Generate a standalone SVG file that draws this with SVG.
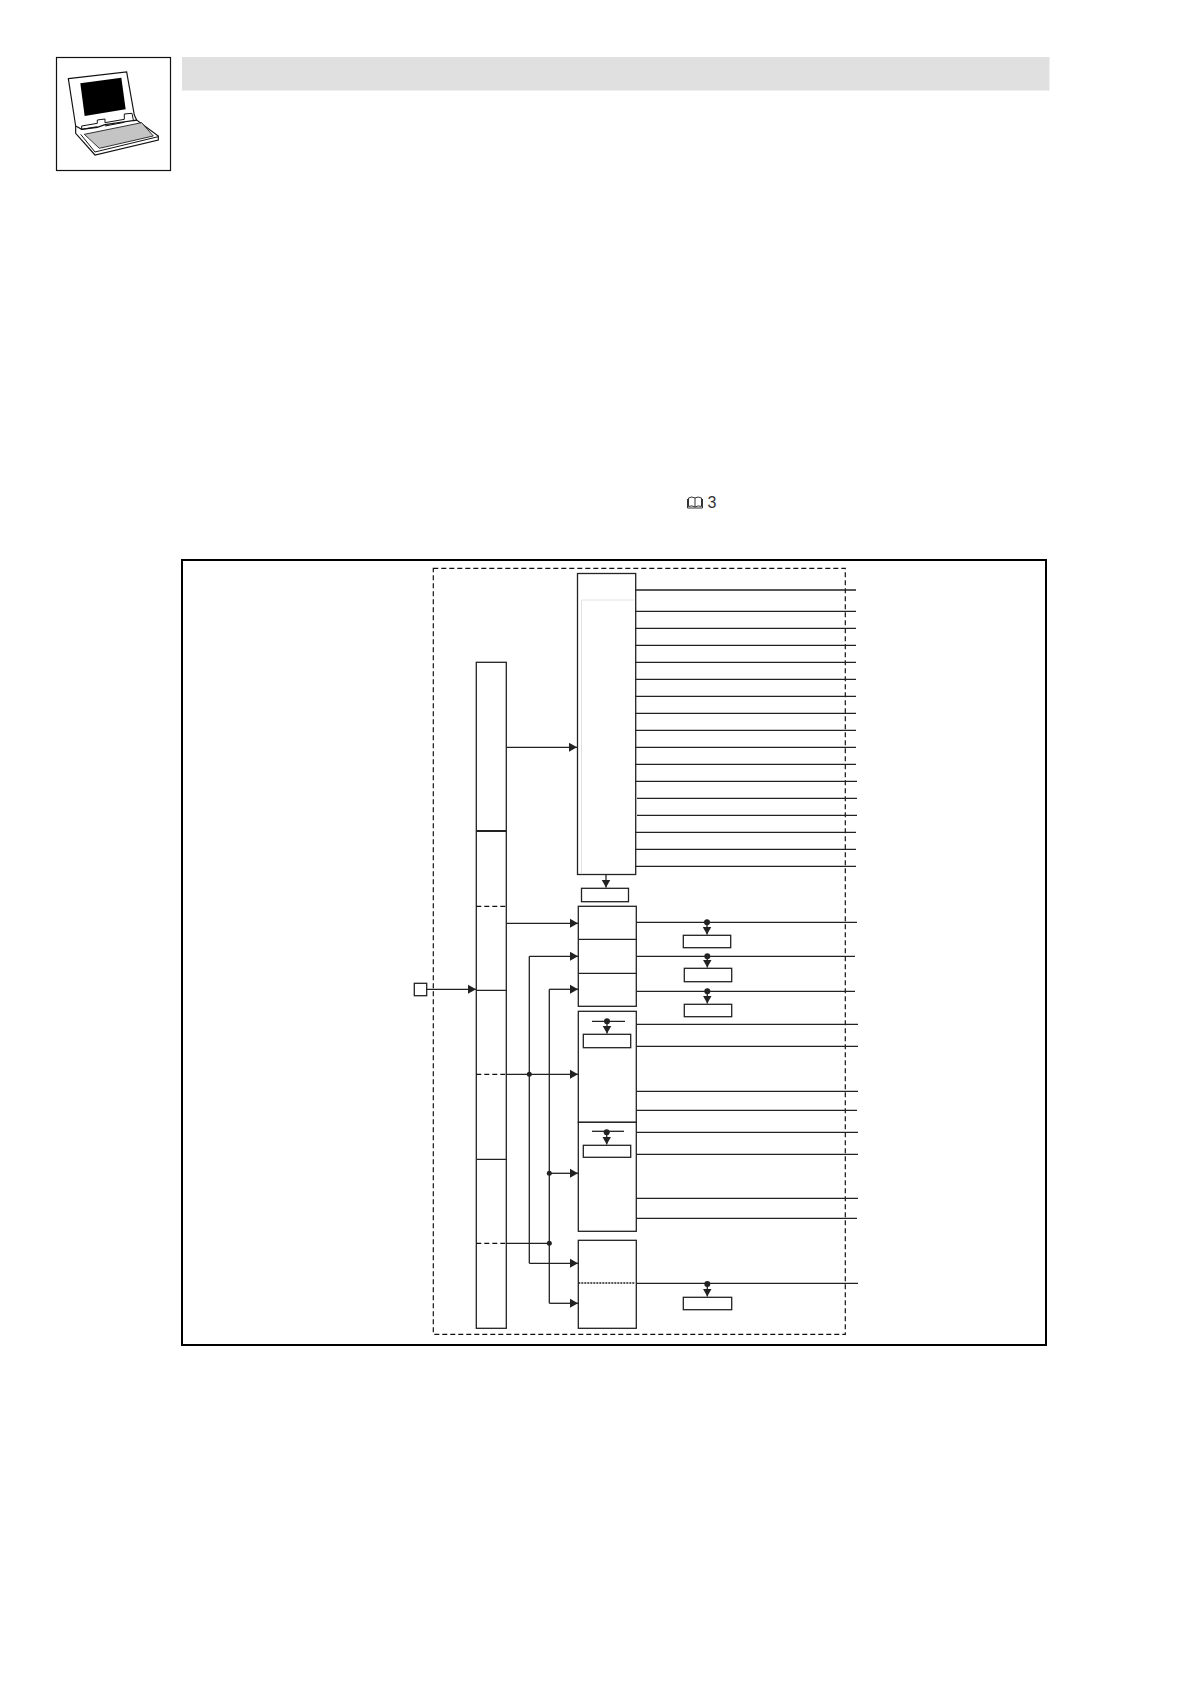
<svg xmlns="http://www.w3.org/2000/svg" width="1190" height="1684" viewBox="0 0 1190 1684">
<style>
.n{fill:#fff;stroke:#222;stroke-width:1.3}
.c{fill:none;stroke:#222;stroke-width:1.3}
.a{fill:none;stroke:#222;stroke-width:1.3;marker-end:url(#ah)}
.d{fill:none;stroke:#111;stroke-width:1.2;stroke-dasharray:5 3}
.dot{fill:#222}
.lap{fill:#fff;stroke:#111;stroke-width:3.500}
</style>
<defs>
<marker id="ah" markerUnits="userSpaceOnUse" markerWidth="9" markerHeight="10" refX="8" refY="5" orient="auto"><path d="M0 0.500L8 5L0 9.500Z" fill="#222"/></marker>
</defs>
<rect width="1190" height="1684" fill="#fff"/>
<g id="header"><rect x="182" y="57" width="867.500" height="33.500" fill="#e0e0e0"/></g>
<g id="icon">
<rect x="56.500" y="57.500" width="114" height="113" fill="#fff" stroke="#111" stroke-width="1.200"/>
<g transform="translate(40 40) scale(.3333)">
<path class="lap" d="M107 258L290 240L355 288V300L165 345L107 280Z"/>
<path class="lap" d="M85 116L260 96L283 225L290 240L195 254L172 262L125 268L107 258Z"/>
<path d="M121 130L244 113L257 208L134 228Z" fill="#000"/>
<path d="M125 268V258L172 250V240L195 237V248L253 238V222L276 220L280 240M125 268L172 260M195 258L253 247M280 243L290 240M122 283L165 336L355 290" fill="none" stroke="#111" stroke-width="3"/>
<path d="M133 283L305 248L340 288L178 325Z" fill="#c4c4c4" stroke="#111" stroke-width="2.500"/>
</g>
</g>
<g id="ref">
<path d="M688.500 498Q692 496 695 498Q698 496 701.500 498V506.500Q698 505 695 507Q692 505 688.500 506.500ZM695 498V507M687.500 499V508H702.500V499" fill="none" stroke="#333" stroke-width="1"/>
<text x="707.500" y="508" font-family="'Liberation Sans',Arial,sans-serif" font-size="16" fill="#333">3</text>
</g>
<g id="frame"><rect x="182" y="560" width="864" height="785" fill="none" stroke="#000" stroke-width="2"/></g>
<g id="boundary"><rect x="433.300" y="568.300" width="412" height="766" class="d"/></g>
<g id="column">
<rect class="n" x="476.300" y="662.300" width="30" height="666"/>
<path d="M476.300 831H506.300" stroke="#222" stroke-width="2"/>
<path class="d" d="M476.300 906.300H508M476.300 1074.300H506M476.300 1243.300H506"/>
<path class="c" d="M476.300 990.300H506.300M476.300 1159.300H506.300"/>
</g>
<g id="main">
<rect class="n" x="577.500" y="573.500" width="58.200" height="301"/>
<path d="M581.500 874V600H634" fill="none" stroke="#e2e2e2" stroke-width="1"/>
</g>
<g id="sub0"><rect class="n" x="581.500" y="888.300" width="47" height="13.400"/></g>
<g id="groupA">
<rect class="n" x="578.300" y="906.300" width="58" height="100"/>
<path class="c" d="M578.300 939.300H636.300M578.300 973.300H636.300"/>
</g>
<g id="groupB">
<rect class="n" x="578.300" y="1011.300" width="58" height="111"/>
<path class="c" d="M592 1021.300H625"/>
<circle class="dot" cx="607" cy="1021.300" r="3"/>
<path class="a" d="M607 1022V1033.500"/>
<rect class="n" x="583.300" y="1034.300" width="47.400" height="13.400"/>
</g>
<g id="groupC">
<rect class="n" x="578.300" y="1122.300" width="58" height="109"/>
<path class="c" d="M592 1131.300H624"/>
<circle class="dot" cx="606.700" cy="1132.300" r="3"/>
<path class="a" d="M606.700 1133V1144.500"/>
<rect class="n" x="583.300" y="1145.300" width="47.400" height="12"/>
</g>
<g id="groupD">
<rect class="n" x="578.300" y="1240.300" width="58" height="88"/>
<path d="M578.300 1283H635" fill="none" stroke="#222" stroke-width="1.500" stroke-dasharray="2 1"/>
</g>
<g id="input"><rect class="n" x="414.300" y="983.300" width="12.400" height="12.400"/></g>
<g id="out1"><rect class="n" x="683.300" y="935.300" width="47.400" height="12.400"/></g>
<g id="out2"><rect class="n" x="684.300" y="968.300" width="47.400" height="13.400"/></g>
<g id="out3"><rect class="n" x="684.300" y="1004.300" width="47.400" height="12.400"/></g>
<g id="out4"><rect class="n" x="683.300" y="1297.300" width="48.400" height="12.400"/></g>
<g id="connectors">
<path class="c" d="M635.700 590H856M635.700 611.300H856M635.700 628.300H856M635.700 645.300H856M635.700 662.300H856M635.700 679.300H856M635.700 696.300H856M635.700 713.300H856M635.700 730.300H856M635.700 747.300H856M635.700 764.300H856M635.700 781.300H857M637 798.300H857M637 815.300H857M635.700 832.300H856M635.700 849.300H856M635.700 866.300H856"/>
<path class="a" d="M506.300 747.300H577"/>
<path class="a" d="M606 874.500V887.500"/>
<path class="a" d="M426.700 989.300H476"/>
<path class="a" d="M506.300 923.300H578"/>
<path class="c" d="M529.300 956.300V1263.300"/>
<path class="a" d="M529.300 956.300H578"/>
<path class="a" d="M529.300 1263.300H578"/>
<path class="c" d="M549.300 989.300V1303.300"/>
<path class="a" d="M549.300 989.300H578"/>
<path class="a" d="M549.300 1303.300H578"/>
<path class="a" d="M506.300 1074.300H578"/>
<path class="a" d="M549.300 1173.300H578"/>
<path class="c" d="M506.300 1243.300H549.300"/>
<circle class="dot" cx="529.300" cy="1074.300" r="2.500"/>
<circle class="dot" cx="549.300" cy="1173.300" r="2.500"/>
<circle class="dot" cx="549.300" cy="1243.300" r="2.500"/>
<path class="c" d="M636.300 922.300H857M636.300 956.300H855M636.300 991.300H855"/>
<path class="c" d="M636.300 1024.300H858M636.300 1046.300H858M636.300 1091.300H858M636.300 1110.300H857M636.300 1132.300H858M636.300 1154.300H858M636.300 1198.300H858M636.300 1218.300H857M636.300 1283.300H858"/>
<circle class="dot" cx="707" cy="922.300" r="3"/><path class="a" d="M707 923V934.500"/>
<circle class="dot" cx="707.300" cy="956.300" r="3"/><path class="a" d="M707.300 957V967.500"/>
<circle class="dot" cx="707.300" cy="991.300" r="3"/><path class="a" d="M707.300 992V1003.500"/>
<circle class="dot" cx="707.300" cy="1284" r="3"/><path class="a" d="M707.300 1285V1296.500"/>
</g>
</svg>
